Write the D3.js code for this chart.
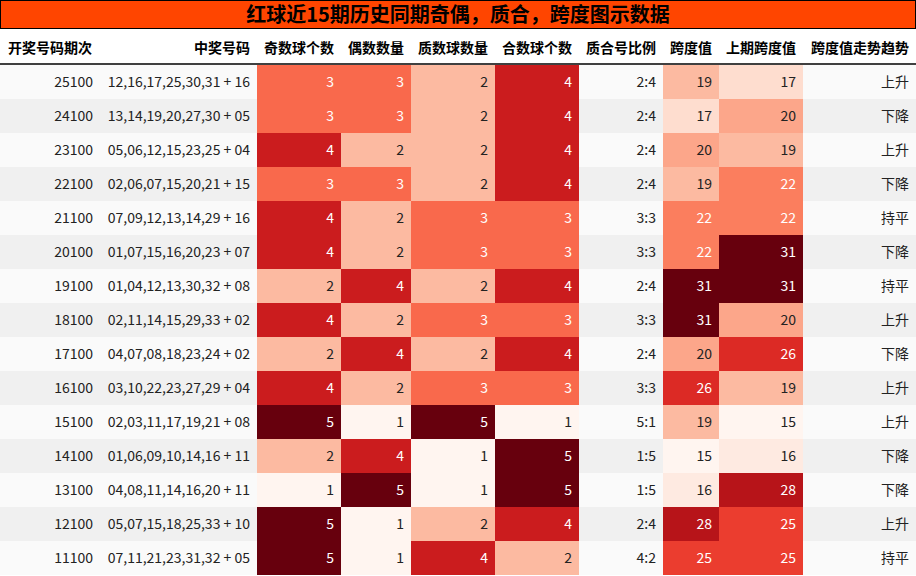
<!DOCTYPE html>
<html><head><meta charset="utf-8">
<script src="https://cdn.jsdelivr.net/npm/d3@7"></script>
<style>body{margin:0;background:#fff}</style>
</head><body><svg></svg>
<script>
var issues = ["25100","24100","23100","22100","21100","20100","19100","18100","17100","16100","15100","14100","13100","12100","11100"];
var numbers = ["12,16,17,25,30,31 + 16","13,14,19,20,27,30 + 05","05,06,12,15,23,25 + 04","02,06,07,15,20,21 + 15","07,09,12,13,14,29 + 16","01,07,15,16,20,23 + 07","01,04,12,13,30,32 + 08","02,11,14,15,29,33 + 02","04,07,08,18,23,24 + 02","03,10,22,23,27,29 + 04","02,03,11,17,19,21 + 08","01,06,09,10,14,16 + 11","04,08,11,14,16,20 + 11","05,07,15,18,25,33 + 10","07,11,21,23,31,32 + 05"];
var oddCount = [3,3,4,3,4,4,2,4,2,4,5,2,1,5,5];
var evenCount = [3,3,2,3,2,2,4,2,4,2,1,4,5,1,1];
var primeCount = [2,2,2,2,3,3,2,3,2,3,5,1,1,2,4];
var compCount = [4,4,4,4,3,3,4,3,4,3,1,5,5,4,2];
var ratio = ["2:4","2:4","2:4","2:4","3:3","3:3","2:4","3:3","2:4","3:3","5:1","1:5","1:5","2:4","4:2"];
var span = [19,17,20,19,22,22,31,31,20,26,19,15,16,28,25];
var prevSpan = [17,20,19,22,22,31,31,20,26,19,15,16,28,25,25];
var trend = ["上升","下降","上升","下降","持平","下降","持平","上升","下降","上升","上升","下降","下降","上升","持平"];
var headers = ["开奖号码期次","中奖号码","奇数球个数","偶数数量","质数球数量","合数球个数","质合号比例","跨度值","上期跨度值","跨度值走势趋势"];

var W = 916, H = 576;
var svg = d3.select("svg").attr("width", W).attr("height", H)
  .style("font-family", "'Noto Sans CJK SC', 'Liberation Sans', sans-serif");

var edges = [0,100,257,341,411,495,579,663,719,803,916];
var rowY = d3.scaleBand().domain(d3.range(issues.length)).range([65, 575]);

var countColor = d3.scaleSequential(d3.interpolateReds).domain([1,5]);
var spanColor = d3.scaleSequential(d3.interpolateReds).domain([15,31]);

// title
svg.append("rect").attr("x",0.5).attr("y",0.5).attr("width",W-1).attr("height",28)
  .attr("fill","#ff4500").attr("stroke","#000");
svg.append("text").attr("x",W/2).attr("y",22).attr("text-anchor","middle")
  .attr("font-size",20).attr("font-weight","bold").attr("fill","#000")
  .text("红球近15期历史同期奇偶，质合，跨度图示数据");

// header
svg.selectAll(".hd").data(headers).enter().append("text")
  .attr("x",function(d,i){ return i==0 ? 8 : edges[i+1]-7; })
  .attr("text-anchor",function(d,i){ return i==0 ? "start" : "end"; })
  .attr("y",53).attr("font-size",14).attr("font-weight","bold").text(function(d){return d;});
svg.append("line").attr("x1",0).attr("x2",W).attr("y1",64).attr("y2",64).attr("stroke","#000").attr("stroke-width",1.5);

var rows = svg.selectAll(".row").data(issues).enter().append("g")
  .attr("transform",function(d,i){ return "translate(0,"+rowY(i)+")"; });
rows.append("rect").attr("width",W).attr("height",rowY.bandwidth())
  .attr("fill",function(d,i){ return i%2 ? "#f0f0f0" : "#fafafa"; });

var cols = [
  {v:issues}, {v:numbers}, {v:oddCount,c:countColor}, {v:evenCount,c:countColor},
  {v:primeCount,c:countColor}, {v:compCount,c:countColor}, {v:ratio},
  {v:span,c:spanColor}, {v:prevSpan,c:spanColor}, {v:trend}
];
rows.each(function(d,i){
  var g = d3.select(this);
  cols.forEach(function(col,j){
    var val = col.v[i], txt = "#222";
    if (col.c) {
      g.append("rect").attr("x",edges[j+1]-(edges[j+1]-edges[j])).attr("width",edges[j+1]-edges[j])
        .attr("height",rowY.bandwidth()).attr("fill",col.c(val));
      var t = (val - col.c.domain()[0])/(col.c.domain()[1]-col.c.domain()[0]);
      txt = t > 0.4 ? "#fff" : "#222";
    }
    g.append("text").attr("x",edges[j+1]-7).attr("y",rowY.bandwidth()/2+5)
      .attr("text-anchor","end").attr("font-size",14).attr("fill",txt).text(val);
  });
});
</script></body></html>
